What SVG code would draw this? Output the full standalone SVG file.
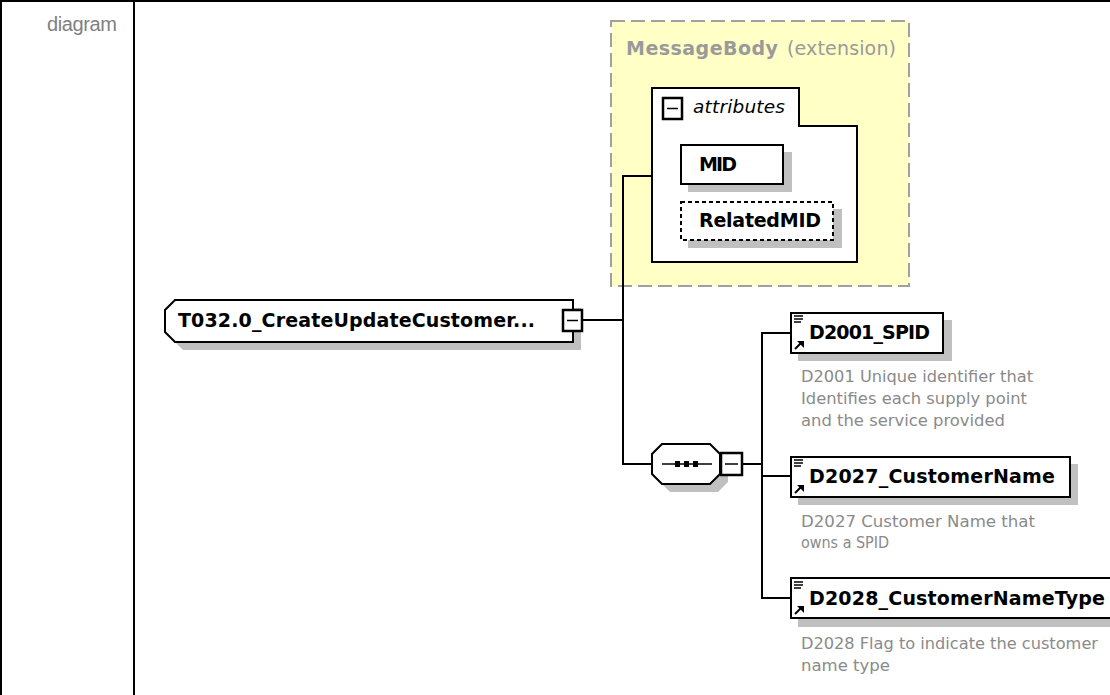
<svg xmlns="http://www.w3.org/2000/svg" width="1110" height="695" viewBox="0 0 1110 695">
<style>
.frame{fill:#000}
.box{fill:#fff;stroke:#000;stroke-width:2}
.shadow{fill:#c0c0c0}
.conn{fill:none;stroke:#000;stroke-width:2}
.name{font-family:"DejaVu Sans",Verdana,sans-serif;font-weight:bold;font-size:19px;fill:#000}
.desc{font-family:"DejaVu Sans",Verdana,sans-serif;font-size:16px;fill:#8a8a8a}
.minus{fill:#fff;stroke:#000;stroke-width:2.5}
.mline{stroke:#000;stroke-width:1.5}
.icon{stroke:#000;stroke-width:1.5}
</style>
<rect width="1110" height="695" fill="#fff"/>
<g id="frame">
<rect x="0" y="0" width="1110" height="2" class="frame"/>
<rect x="0" y="0" width="2" height="695" class="frame"/>
<rect x="133" y="0" width="2" height="695" class="frame"/>
<text x="47" y="31" font-family="Liberation Sans, Arial, sans-serif" font-size="20" fill="#808080" textLength="70">diagram</text>
</g>
<g id="messagebody">
<rect x="611" y="21" width="298" height="265" fill="#ffffc6" stroke="#a0a0a0" stroke-width="2" stroke-dasharray="14,6"/>
<text x="626" y="55" font-family="DejaVu Sans, Verdana, sans-serif" font-weight="bold" font-size="19" fill="#9a9a9a" textLength="152">MessageBody</text>
<text x="787" y="55" font-family="DejaVu Sans, Verdana, sans-serif" font-size="19" fill="#9a9a9a" textLength="109">(extension)</text>
</g>
<g id="attributes">
<path d="M652,88 H799 V126 H857 V262 H652 Z" class="box"/>
<rect x="663" y="98" width="19" height="21" class="minus"/>
<line x1="667" y1="108.5" x2="678" y2="108.5" class="mline"/>
<text x="693" y="113" font-family="DejaVu Sans, Verdana, sans-serif" font-style="italic" font-size="18.5" fill="#000" textLength="92">attributes</text>
</g>
<g id="MID">
<rect x="688" y="152" width="104" height="40" class="shadow"/>
<rect x="681" y="145" width="102" height="39" class="box"/>
<text x="699" y="171" class="name" textLength="38">MID</text>
</g>
<g id="RelatedMID">
<rect x="688" y="209" width="154" height="39" class="shadow"/>
<rect x="681" y="202" width="152" height="38" class="box" stroke-dasharray="4,3"/>
<text x="699" y="227" class="name" textLength="122">RelatedMID</text>
</g>
<g id="connectors">
<line x1="583" y1="320" x2="623" y2="320" class="conn"/>
<polyline points="652,176 623,176 623,464 652,464" class="conn"/>
<line x1="743" y1="464" x2="762" y2="464" class="conn"/>
<polyline points="790,333 762,333 762,598 790,598" class="conn"/>
<line x1="762" y1="476" x2="790" y2="476" class="conn"/>
</g>
<g id="T032">
<polygon points="183,308 581,308 581,350 183,350 173,340 173,318" class="shadow"/>
<polygon points="175,300 573,300 573,342 175,342 165,332 165,310" class="box"/>
<text x="178" y="327" class="name" textLength="357">T032.0_CreateUpdateCustomer...</text>
<rect x="563" y="310" width="19" height="21" class="minus"/>
<line x1="567" y1="320.5" x2="578" y2="320.5" class="mline"/>
</g>
<g id="sequence">
<polygon points="670,452 718,452 728,462 728,482 718,492 670,492 660,482 660,462" class="shadow"/>
<polygon points="662,444 710,444 720,454 720,474 710,484 662,484 652,474 652,454" class="box"/>
<line x1="662" y1="464" x2="712" y2="464" stroke="#000" stroke-width="1.5"/>
<rect x="675" y="461" width="5" height="6" fill="#000"/>
<rect x="684" y="461" width="5" height="6" fill="#000"/>
<rect x="693" y="461" width="5" height="6" fill="#000"/>
<rect x="721" y="453" width="21" height="22" class="minus"/>
<line x1="725" y1="464" x2="738" y2="464" class="mline"/>
</g>
<g id="D2001_SPID">
<rect x="798" y="320" width="154" height="41" class="shadow"/>
<rect x="791" y="313" width="152" height="40" class="box"/>
<path d="M794,316 H803 M794,319 H803 M794,322 H801" class="icon"/>
<path d="M795,349 L801,343" stroke="#000" stroke-width="2"/>
<polygon points="797,341 804,341 804,348" fill="#000"/>
<text x="809" y="339" class="name" textLength="121">D2001_SPID</text>
<text x="801" y="382" class="desc" textLength="232" lengthAdjust="spacingAndGlyphs">D2001 Unique identifier that</text>
<text x="801" y="404" class="desc" textLength="226" lengthAdjust="spacingAndGlyphs">Identifies each supply point</text>
<text x="801" y="426" class="desc" textLength="204" lengthAdjust="spacingAndGlyphs">and the service provided</text>
</g>
<g id="D2027_CustomerName">
<rect x="798" y="464" width="280" height="41" class="shadow"/>
<rect x="791" y="457" width="279" height="40" class="box"/>
<path d="M794,460 H803 M794,463 H803 M794,466 H801" class="icon"/>
<path d="M795,493 L801,487" stroke="#000" stroke-width="2"/>
<polygon points="797,485 804,485 804,492" fill="#000"/>
<text x="809" y="483" class="name" textLength="246">D2027_CustomerName</text>
<text x="801" y="527" class="desc" textLength="234" lengthAdjust="spacingAndGlyphs">D2027 Customer Name that</text>
<text x="801" y="548" class="desc" textLength="88" lengthAdjust="spacingAndGlyphs">owns a SPID</text>
</g>
<g id="D2028_CustomerNameType">
<rect x="798" y="586" width="320" height="41" class="shadow"/>
<rect x="791" y="578" width="330" height="40" class="box"/>
<path d="M794,582 H803 M794,585 H803 M794,588 H801" class="icon"/>
<path d="M795,614 L801,608" stroke="#000" stroke-width="2"/>
<polygon points="797,606 804,606 804,613" fill="#000"/>
<text x="809" y="605" class="name" textLength="296">D2028_CustomerNameType</text>
<text x="801" y="649" class="desc" textLength="297" lengthAdjust="spacingAndGlyphs">D2028 Flag to indicate the customer</text>
<text x="801" y="671" class="desc" textLength="89" lengthAdjust="spacingAndGlyphs">name type</text>
</g>
</svg>
